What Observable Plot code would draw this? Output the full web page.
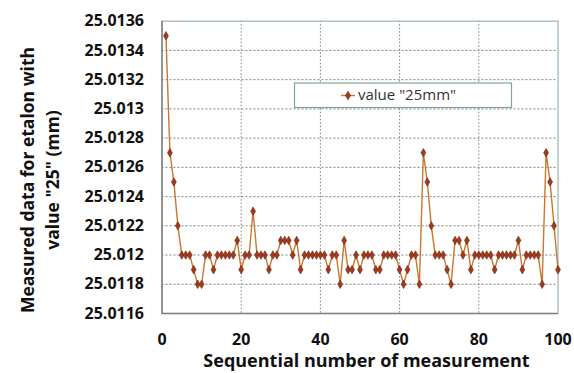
<!DOCTYPE html>
<html>
<head>
<meta charset="utf-8">
<script src="https://cdn.jsdelivr.net/npm/d3@7"></script>
<script src="https://cdn.jsdelivr.net/npm/@observablehq/plot@0.6"></script>
<style>
  html, body { margin: 0; padding: 0; background: #fff; }
  #chart { width: 574px; height: 373px; }
</style>
</head>
<body>
<div id="chart"></div>
<script>
const measurementValues = [
  25.0135, 25.0127, 25.0125, 25.0122, 25.0120, 25.0120, 25.0120, 25.0119, 25.0118, 25.0118,
  25.0120, 25.0120, 25.0119, 25.0120, 25.0120, 25.0120, 25.0120, 25.0120, 25.0121, 25.0119,
  25.0120, 25.0120, 25.0123, 25.0120, 25.0120, 25.0120, 25.0119, 25.0120, 25.0120, 25.0121,
  25.0121, 25.0121, 25.0120, 25.0121, 25.0119, 25.0120, 25.0120, 25.0120, 25.0120, 25.0120,
  25.0120, 25.0119, 25.0120, 25.0120, 25.0118, 25.0121, 25.0119, 25.0119, 25.0120, 25.0119,
  25.0120, 25.0120, 25.0120, 25.0119, 25.0119, 25.0120, 25.0120, 25.0120, 25.0120, 25.0119,
  25.0118, 25.0119, 25.0120, 25.0120, 25.0118, 25.0127, 25.0125, 25.0122, 25.0120, 25.0120,
  25.0120, 25.0119, 25.0118, 25.0121, 25.0121, 25.0120, 25.0121, 25.0119, 25.0120, 25.0120,
  25.0120, 25.0120, 25.0120, 25.0119, 25.0120, 25.0120, 25.0120, 25.0120, 25.0120, 25.0121,
  25.0119, 25.0120, 25.0120, 25.0120, 25.0120, 25.0118, 25.0127, 25.0125, 25.0122, 25.0119
];
const measurementNumbers = measurementValues.map((_, i) => i + 1);
const xTicks = [0, 20, 40, 60, 80, 100];
const yTicks = [25.0116, 25.0118, 25.0120, 25.0122, 25.0124, 25.0126, 25.0128, 25.0130, 25.0132, 25.0134, 25.0136];
const yTickLabels = ["25.0116", "25.0118", "25.012", "25.0122", "25.0124", "25.0126", "25.0128", "25.013", "25.0132", "25.0134", "25.0136"];
const seriesName = 'value "25mm"';
const xTitle = "Sequential number of measurement";
const yTitleLines = ["Measured data for etalon with", 'value "25" (mm)'];

const data = measurementNumbers.map((n, i) => ({n, v: measurementValues[i]}));

const FONT = "'Open Sans', 'DejaVu Sans', sans-serif";
const lineColor = "#c9772f";
const markColor = "#9e3b1f";

const mL = 161.5, mR = 16.5, mT = 20.7, mB = 60;

const chart = Plot.plot({
  width: 574,
  height: 373,
  marginLeft: mL,
  marginRight: mR,
  marginTop: mT,
  marginBottom: mB,
  style: {fontFamily: FONT, background: "#fff", overflow: "visible"},
  x: {domain: [0, 100]},
  y: {domain: [25.0116, 25.0136]},
  marks: [
    Plot.gridX(xTicks.filter(t => t > 0 && t < 100), {stroke: "#808080", strokeOpacity: 1, strokeDasharray: "1.5,2", strokeWidth: 1}),
    Plot.gridY(yTicks.filter(t => t > 25.0116 && t < 25.0136), {stroke: "#808080", strokeOpacity: 1, strokeDasharray: "2,2", strokeWidth: 1}),
    Plot.frame({stroke: "#9cb6ae", strokeWidth: 1.2}),
    Plot.ruleY([25.0116], {stroke: "#808080", strokeWidth: 1.5}),
    Plot.ruleX([0], {stroke: "#808080", strokeWidth: 1.5}),
    Plot.axisX({ticks: xTicks, tickSize: 0, tickPadding: 20, fontSize: 16, fontWeight: "bold", fill: "#111",
      label: null}),
    Plot.axisY({ticks: yTicks, tickFormat: (d) => yTickLabels[yTicks.findIndex(t => Math.abs(t - d) < 1e-9)],
      tickSize: 0, tickPadding: 18, fontSize: 16, fontWeight: "bold", fill: "#111", label: null}),
    Plot.line(data, {x: "n", y: "v", stroke: lineColor, strokeWidth: 1.4}),
    Plot.dot(data, {x: "n", y: "v", symbol: "diamond", r: 2.6, fill: markColor, stroke: "#7a2a14", strokeWidth: 0.6})
  ]
});

document.getElementById("chart").appendChild(chart);

// axis titles and legend
const svg = d3.select(chart);
svg.append("text")
  .attr("x", 366.5).attr("y", 362)
  .attr("text-anchor", "middle")
  .attr("dominant-baseline", "middle")
  .style("font-family", FONT).style("font-size", "18px").style("font-weight", "bold").attr("fill", "#111")
  .text(xTitle);

const yt = svg.append("text")
  .attr("transform", "translate(0,180) rotate(-90)")
  .attr("text-anchor", "middle")
  .style("font-family", FONT).style("font-size", "17.5px").style("font-weight", "bold").attr("fill", "#111");
yTitleLines.forEach((t, i) => {
  yt.append("tspan").attr("x", 0).attr("y", 34 + i * 25).text(t);
});

// legend
const lg = svg.append("g");
lg.append("rect").attr("x", 294.5).attr("y", 83).attr("width", 217).attr("height", 24.5)
  .attr("fill", "#fff").attr("stroke", "#7fa49a").attr("stroke-width", 1.2);
lg.append("line").attr("x1", 341).attr("x2", 355).attr("y1", 95.5).attr("y2", 95.5)
  .attr("stroke", lineColor).attr("stroke-width", 1.4);
lg.append("path").attr("d", d3.symbol(d3.symbolDiamond, 22)()).attr("transform", "translate(348,95.5)")
  .attr("fill", markColor).attr("stroke", "#7a2a14").attr("stroke-width", 0.6);
lg.append("text").attr("x", 358).attr("y", 95.5).attr("dominant-baseline", "middle")
  .attr("text-anchor", "start")
  .style("font-family", FONT).style("font-size", "15px").attr("fill", "#333")
  .text(seriesName);
</script>
</body>
</html>
